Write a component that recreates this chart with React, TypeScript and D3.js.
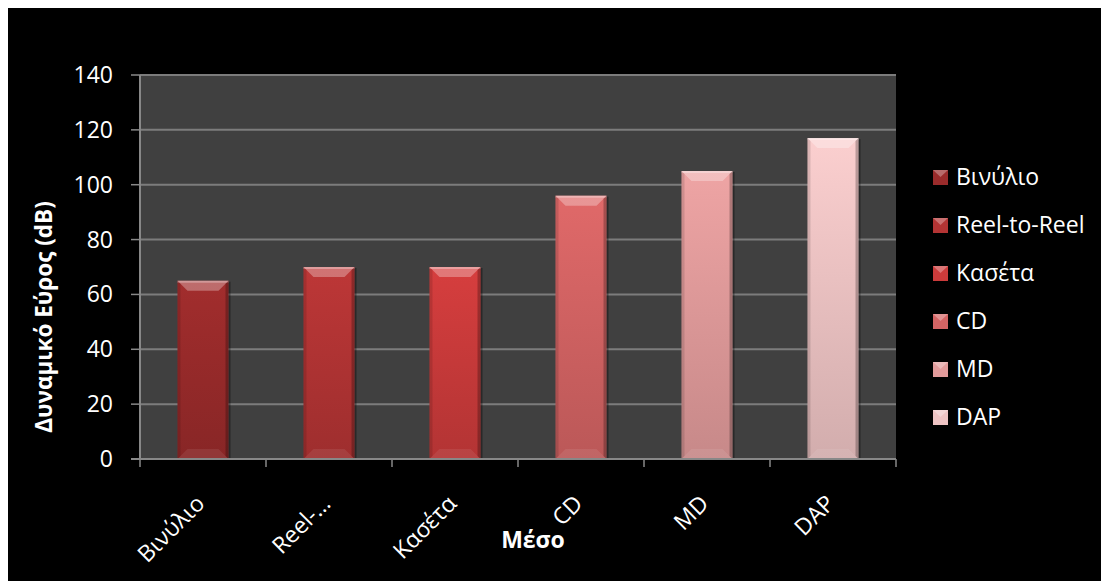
import React from "react";
import * as d3 from "d3";

const categories = ["Βινύλιο", "Reel-to-Reel", "Κασέτα", "CD", "MD", "DAP"];
const axisLabels = ["Βινύλιο", "Reel-…", "Κασέτα", "CD", "MD", "DAP"];
const values = [65, 70, 70, 96, 105, 117];
const yTicks = [0, 20, 40, 60, 80, 100, 120, 140];
const barColors = ["#9a2b2b", "#b33434", "#cb3b3b", "#d46464", "#e29b9b", "#eec4c4"];

const W = 1101;
const H = 573;
const FONT = "'Open Sans', 'Noto Sans', sans-serif";

export default function App() {
  const left = 132;
  const right = 888;
  const top = 67;
  const bottom = 451;

  const x = d3.scaleBand<string>().domain(categories).range([left, right]).padding(0);
  const y = d3.scaleLinear().domain([0, 140]).range([bottom, top]);
  const barFrac = 0.405;
  const bw = x.bandwidth() * barFrac;
  const bevel = 10;
  const side = 3;

  return (
    <svg width={W} height={H} style={{ display: "block" }} fontFamily={FONT}>
      <defs>
        {barColors.map((c, i) => {
          const base = d3.color(c)!;
          return (
            <linearGradient key={i} id={`g${i}`} x1="0" y1="0" x2="0" y2="1">
              <stop offset="0%" stopColor={base.brighter(0.15).formatHex()} />
              <stop offset="100%" stopColor={base.darker(0.35).formatHex()} />
            </linearGradient>
          );
        })}
      </defs>
      <rect x={0} y={0} width={W} height={H} fill="#000" />
      <rect x={left} y={top} width={right - left} height={bottom - top} fill="#404040" />

      {yTicks.map((t) => (
        <g key={t}>
          {t > 0 && (
            <line x1={left} x2={right} y1={y(t)} y2={y(t)} stroke="#7c7c7c" strokeWidth={2} />
          )}
          <line x1={left - 9} x2={left} y1={y(t)} y2={y(t)} stroke="#888" strokeWidth={1.5} />
          <text x={left - 27} y={y(t)} dy="0.35em" textAnchor="end" fill="#fff" fontSize={23}>
            {t}
          </text>
        </g>
      ))}

      {categories.map((c, i) => {
        const x0 = x(c)! + (x.bandwidth() - bw) / 2;
        const x1 = x0 + bw;
        const yt = y(values[i]);
        const yb = y(0);
        return (
          <g key={c}>
            <rect x={x1} y={yt + 1} width={2} height={yb - yt - 1} fill="#000" opacity={0.35} />
            <rect x={x0} y={yt} width={bw} height={yb - yt} fill={`url(#g${i})`} />
            <polygon
              points={`${x0},${yt} ${x1},${yt} ${x1 - bevel},${yt + bevel} ${x0 + bevel},${yt + bevel}`}
              fill="#fff"
              opacity={0.3}
            />
            <rect x={x0} y={yt} width={bw} height={2} fill="#fff" opacity={0.3} />
            <polygon
              points={`${x0},${yb} ${x1},${yb} ${x1 - bevel},${yb - bevel} ${x0 + bevel},${yb - bevel}`}
              fill="#fff"
              opacity={0.08}
            />
            <polygon
              points={`${x0},${yt} ${x0 + side},${yt + side} ${x0 + side},${yb - side} ${x0},${yb}`}
              fill="#000"
              opacity={0.12}
            />
            <polygon
              points={`${x1},${yt} ${x1 - side},${yt + side} ${x1 - side},${yb - side} ${x1},${yb}`}
              fill="#000"
              opacity={0.25}
            />
          </g>
        );
      })}

      <line x1={left} x2={left} y1={top} y2={bottom} stroke="#888" strokeWidth={2} />
      <line x1={left - 9} x2={right} y1={bottom} y2={bottom} stroke="#888" strokeWidth={2} />
      {[...categories.map((c) => x(c)!), right].map((tx, i) => (
        <line key={i} x1={tx} x2={tx} y1={bottom} y2={bottom + 8} stroke="#888" strokeWidth={1.5} />
      ))}

      {categories.map((c, i) => {
        const cx = x(c)! + x.bandwidth() / 2 + 3;
        const cy = bottom + 46;
        return (
          <text
            key={c}
            transform={`translate(${cx},${cy}) rotate(-45)`}
            textAnchor="end"
            fill="#fff"
            fontSize={23}
          >
            {axisLabels[i]}
          </text>
        );
      })}

      <text x={525} y={540} textAnchor="middle" fill="#fff" fontSize={23} fontWeight="bold">
        Μέσο
      </text>
      <text
        transform={`translate(44,309) rotate(-90)`}
        textAnchor="middle"
        fill="#fff"
        fontSize={22.5}
        fontWeight="bold"
      >
        Δυναμικό Εύρος (dB)
      </text>

      {categories.map((c, i) => {
        const ly = 169 + i * 48;
        return (
          <g key={c}>
            <rect x={925} y={ly - 7} width={15} height={15} fill={barColors[i]} />
            <polygon
              points={`${925},${ly - 7} ${940},${ly - 7} ${932.5},${ly}`}
              fill="#fff"
              opacity={0.3}
            />
            <text x={948} y={ly} dy="0.35em" fill="#fff" fontSize={23}>
              {c}
            </text>
          </g>
        );
      })}
    </svg>
  );
}
